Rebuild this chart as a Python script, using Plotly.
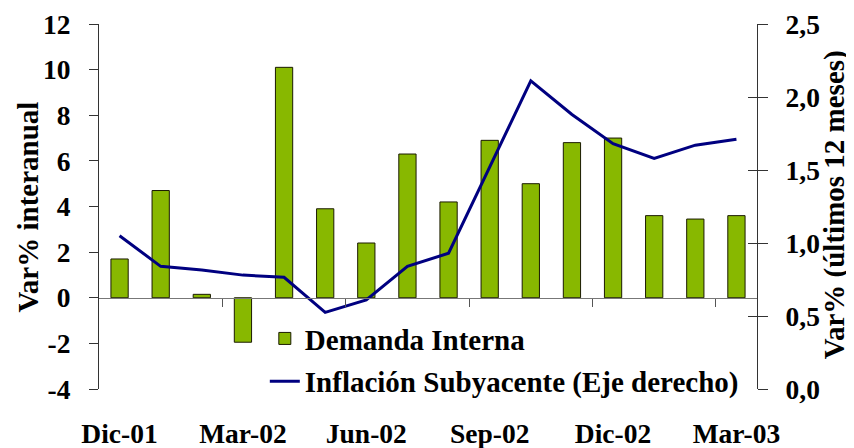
import plotly.graph_objects as go

months = ["Dic-01", "Ene-02", "Feb-02", "Mar-02", "Abr-02", "May-02", "Jun-02", "Jul-02",
          "Ago-02", "Sep-02", "Oct-02", "Nov-02", "Dic-02", "Ene-03", "Feb-03", "Mar-03"]
demanda_interna = [1.7, 4.7, 0.15, -1.95, 10.1, 3.9, 2.4, 6.3, 4.2, 6.9, 5.0, 6.8, 7.0, 3.6, 3.45, 3.6]
inflacion_subyacente = [1.05, 0.84, 0.815, 0.78, 0.765, 0.525, 0.61, 0.84, 0.93, 1.52,
                        2.11, 1.88, 1.68, 1.58, 1.67, 1.71]
left_ticks = [-4, -2, 0, 2, 4, 6, 8, 10, 12]
right_ticks = [0.0, 0.5, 1.0, 1.5, 2.0, 2.5]
label_every = 3

idx = list(range(len(months)))
tick_idx = idx[::label_every]
boundary_ticks = [i - 0.5 for i in idx[label_every::label_every]]

FONT = "Liberation Serif, Times New Roman, serif"
FT = dict(family=FONT, size=27.5, color="black")
FL = dict(family=FONT, size=29, color="black")


def b(s):
    return "<b>%s</b>" % s


fig = go.Figure()
fig.add_trace(go.Bar(
    x=idx, y=demanda_interna, name=b("Demanda Interna"),
    marker=dict(color="#88b800", line=dict(color="#1a1a00", width=1)),
    width=0.42, legendgroup="a", xaxis="x", yaxis="y",
))
fig.add_trace(go.Scatter(
    x=idx, y=inflacion_subyacente, name=b("Inflación Subyacente (Eje derecho)"),
    mode="lines", line=dict(color="#000080", width=3), legendgroup="b",
    xaxis="x", yaxis="y2",
))
for ax in ("y3", "y4"):
    fig.add_trace(go.Scatter(x=[None], y=[None], yaxis=ax, xaxis="x", showlegend=False,
                             hoverinfo="skip"))
fig.add_trace(go.Scatter(x=[None], y=[None], yaxis="y", xaxis="x2", showlegend=False,
                         hoverinfo="skip"))

# the page body adds an 8px offset, so the figure is sized to fill the rest of the window
fig.update_layout(
    width=846, height=440,
    margin=dict(l=91, r=97, t=16, b=59, autoexpand=False),
    plot_bgcolor="white", paper_bgcolor="white",
    font=FT,
    showlegend=True,
    legend=dict(x=0.252, y=0.208, xanchor="left", yanchor="top",
                bgcolor="rgba(0,0,0,0)", font=FL,
                traceorder="grouped", tracegroupgap=2, itemwidth=30),
    xaxis=dict(range=[-0.5, len(months) - 0.5], tickmode="array", tickvals=tick_idx,
               ticktext=[b(months[i]) for i in tick_idx], automargin=False,
               showline=False, ticks="", showgrid=False, zeroline=False,
               ticklabelstandoff=25, tickfont=FT),
    xaxis2=dict(overlaying="x", matches="x", anchor="free", position=4 / 16,
                range=[-0.5, len(months) - 0.5], tickmode="array", tickvals=boundary_ticks,
                ticks="outside", ticklen=8, tickcolor="#555", showticklabels=False,
                automargin=False,
                showline=True, linecolor="#777", linewidth=1, showgrid=False, zeroline=False),
    yaxis=dict(range=[-4, 12], tickmode="array", tickvals=left_ticks,
               ticktext=[b(str(v)) for v in left_ticks], ticks="outside", ticklen=9,
               tickcolor="#333", showline=True, linecolor="#333", linewidth=1,
               automargin=False,
               showgrid=False, zeroline=False, tickfont=FT, ticklabelstandoff=13),
    yaxis2=dict(range=[0, 2.5], tickmode="array", tickvals=right_ticks,
                overlaying="y", side="right", showticklabels=False, automargin=False,
                ticks="outside", ticklen=10, tickcolor="#333", showline=True,
                linecolor="#333", linewidth=1, showgrid=False, zeroline=False),
    yaxis3=dict(range=[0, 2.5], tickmode="array", tickvals=right_ticks, overlaying="y",
                side="right", anchor="x", automargin=False,
                ticks="inside", ticklen=9, tickcolor="#333", showticklabels=False,
                showline=False, showgrid=False, zeroline=False),
    yaxis4=dict(range=[0, 2.5], tickmode="array", tickvals=right_ticks,
                ticktext=[b(("%.1f" % v).replace(".", ",")) for v in right_ticks],
                overlaying="y", side="right", anchor="x", automargin=False,
                ticks="outside", ticklen=22, tickcolor="rgba(0,0,0,0)", tickfont=FT,
                showline=False, showgrid=False, zeroline=False),
    annotations=[
        dict(text=b("Var% interanual"), xref="paper", yref="paper", x=-0.108, y=0.5,
             xanchor="center", yanchor="middle", textangle=-90, showarrow=False, font=FL),
        dict(text=b("Var% (últimos 12 meses)"), xref="paper", yref="paper", x=1.118, y=0.505,
             xanchor="center", yanchor="middle", textangle=-90, showarrow=False, font=FL),
    ],
)

fig.write_html("out.html")
